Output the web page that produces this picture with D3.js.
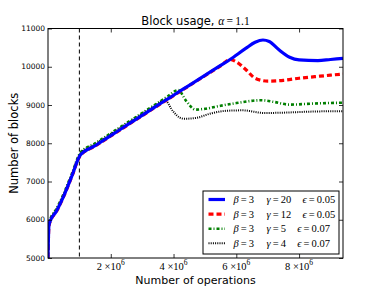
<!DOCTYPE html>
<html>
<head>
<meta charset="utf-8">
<script src="https://cdn.jsdelivr.net/npm/d3@7"></script>
<style>
  body { margin: 0; background: #fff; }
  svg text { fill: #000; }
</style>
</head>
<body>
<div id="graphic"></div>
<script>
// values (x in operations, y in blocks)
var rampX = [0, 0.03e6, 0.1e6, 0.25e6, 0.5e6, 0.75e6, 1.03e6, 1.5e6, 2.0e6, 2.5e6, 3.0e6, 3.5e6];
var blueX = rampX.concat([3.75e6, 4.0e6, 4.5e6, 5.0e6, 5.5e6, 5.8e6, 6.3e6, 6.6e6, 6.85e6, 7.05e6, 7.35e6, 7.7e6, 8.0e6, 8.6e6, 9.0e6, 9.4e6]);
var blueY = [5000, 5850, 6020, 6200, 6620, 7120, 7690, 7935, 8200, 8465, 8730, 8995,
             9125, 9255, 9515, 9775, 10035, 10190, 10480, 10640, 10700, 10660, 10450, 10250, 10180, 10160, 10190, 10220];
var redX = rampX.concat([3.75e6, 4.0e6, 4.5e6, 5.0e6, 5.5e6, 5.8e6, 6.0e6, 6.3e6, 6.6e6, 7.0e6, 7.5e6, 8.0e6, 8.5e6, 9.0e6, 9.4e6]);
var redY = [5000, 5840, 6010, 6190, 6610, 7110, 7680, 7925, 8190, 8455, 8720, 8985,
            9115, 9245, 9505, 9765, 10025, 10190, 10130, 9930, 9700, 9625, 9645, 9700, 9740, 9780, 9810];
var greenX = rampX.concat([3.8e6, 4.15e6, 4.4e6, 4.7e6, 5.0e6, 5.5e6, 6.0e6, 6.8e6, 7.2e6, 7.7e6, 8.5e6, 9.4e6]);
var greenY = [5000, 5900, 6070, 6260, 6680, 7180, 7750, 7995, 8260, 8525, 8790, 9055,
              9215, 9390, 9110, 8880, 8900, 8980, 9050, 9125, 9080, 9010, 9040, 9060];
var blackX = rampX.concat([3.7e6, 4.0e6, 4.2e6, 4.35e6, 4.7e6, 5.2e6, 5.7e6, 6.2e6, 6.9e6, 7.5e6, 8.5e6, 9.4e6]);
var blackY = [5000, 5880, 6050, 6240, 6660, 7160, 7730, 7975, 8240, 8505, 8770, 9035,
              9140, 8820, 8670, 8640, 8660, 8780, 8850, 8860, 8790, 8800, 8830, 8840];

var gammaVals = ["20", "12", "5", "4"];
var epsVals = ["0.05", "0.05", "0.07", "0.07"];
var xTicks = [2e6, 4e6, 6e6, 8e6];
var yTicks = [5000, 6000, 7000, 8000, 9000, 10000, 11000];
var markerX = 1e6;

var W = 382, H = 287;
var margin = { top: 28.5, right: 39, bottom: 29, left: 48 };
var width = W - margin.left - margin.right,
    height = H - margin.top - margin.bottom;
var mathFont = "'Liberation Serif', 'DejaVu Serif', serif";
var eq = "\u2009=\u2009";

var svg = d3.select("#graphic").append("svg")
    .attr("width", W)
    .attr("height", H)
    .style("font-family", "'DejaVu Sans', sans-serif");

var g = svg.append("g")
    .attr("transform", "translate(" + margin.left + "," + margin.top + ")");

var x = d3.scaleLinear().domain([0, 9.4e6]).range([0, width]);
var y = d3.scaleLinear().domain([5000, 11000]).range([height, 0]);

var series = [
    { xs: blueX, ys: blueY, color: "#0000ff", w: 3.2, dash: null },
    { xs: redX, ys: redY, color: "#ff0000", w: 3.2, dash: "5,3" },
    { xs: greenX, ys: greenY, color: "#007f00", w: 2.6, dash: "3,2,1,2" },
    { xs: blackX, ys: blackY, color: "#000000", w: 2, dash: "1,1.2" }
];

svg.append("clipPath").attr("id", "clip")
    .append("rect").attr("width", width).attr("height", height);

var line = d3.line()
    .x(function (d) { return x(d[0]); })
    .y(function (d) { return y(d[1]); })
    .curve(d3.curveMonotoneX);

// dashed vertical marker
g.append("line")
    .attr("x1", x(markerX)).attr("x2", x(markerX))
    .attr("y1", 0).attr("y2", height)
    .attr("stroke", "#000").attr("stroke-width", 1)
    .attr("stroke-dasharray", "4,3");

var plot = g.append("g").attr("clip-path", "url(#clip)");
series.slice().reverse().forEach(function (s) {
    plot.append("path")
        .datum(d3.zip(s.xs, s.ys))
        .attr("d", line)
        .attr("fill", "none")
        .attr("stroke", s.color)
        .attr("stroke-width", s.w)
        .attr("stroke-dasharray", s.dash);
});

// axes with inward ticks on all four sides
var tl = 4;
g.append("g").attr("transform", "translate(0," + height + ")")
    .call(d3.axisBottom(x).tickValues(xTicks).tickSize(-tl).tickFormat(""));
g.append("g")
    .call(d3.axisTop(x).tickValues(xTicks).tickSize(-tl).tickFormat(""));
g.append("g")
    .call(d3.axisLeft(y).tickValues(yTicks).tickSize(-tl).tickFormat(""));
g.append("g").attr("transform", "translate(" + width + ",0)")
    .call(d3.axisRight(y).tickValues(yTicks).tickSize(-tl).tickFormat(""));
g.selectAll(".domain").remove();
g.selectAll(".tick line").attr("stroke", "#000").attr("stroke-width", 0.8);

g.append("rect")
    .attr("width", width).attr("height", height)
    .attr("fill", "none").attr("stroke", "#000").attr("stroke-width", 1);

// tick labels
g.selectAll(".ylab").data(yTicks).enter().append("text")
    .attr("x", -3).attr("y", function (d) { return y(d); })
    .attr("dy", "0.35em")
    .attr("text-anchor", "end")
    .style("font-size", "7.5px")
    .text(function (d) { return d; });

var xl = g.selectAll(".xlab").data(xTicks).enter().append("text")
    .attr("x", function (d) { return x(d); })
    .attr("y", height + 11.5)
    .attr("text-anchor", "middle")
    .style("font-family", mathFont)
    .style("font-size", "10.5px");
xl.append("tspan").text(function (d) { return (d / 1e6) + " \u00d710"; });
xl.append("tspan").attr("dy", -4.5).style("font-size", "7.5px").text("6");

// axis titles
svg.append("text")
    .attr("x", margin.left + width / 2).attr("y", H - 3.5)
    .attr("text-anchor", "middle")
    .style("font-size", "11px")
    .text("Number of operations");

svg.append("text")
    .attr("transform", "translate(18," + (margin.top + height / 2) + ") rotate(-90)")
    .attr("text-anchor", "middle")
    .style("font-size", "11.5px")
    .text("Number of blocks");

var title = svg.append("text")
    .attr("x", margin.left + width / 2).attr("y", 25)
    .attr("text-anchor", "middle")
    .style("font-size", "11.5px");
title.append("tspan").text("Block usage, ");
title.append("tspan").style("font-family", mathFont).style("font-style", "italic").text("\u03b1");
title.append("tspan").style("font-family", mathFont).text(eq + "1.1");

// legend
var leg = svg.append("g").attr("transform", "translate(203,191)");
leg.append("rect")
    .attr("width", 136).attr("height", 63)
    .attr("fill", "#fff").attr("stroke", "#000").attr("stroke-width", 1);

function mtext(xp, ry, sym, rest) {
    var t = leg.append("text")
        .attr("x", xp).attr("y", ry).attr("dy", "0.35em")
        .style("font-family", mathFont)
        .style("font-size", "10.5px");
    t.append("tspan").style("font-style", "italic").text(sym);
    t.append("tspan").text(rest);
    return t;
}

var gap = null;
series.forEach(function (s, i) {
    var ry = 8.5 + i * 14.6;
    leg.append("line")
        .attr("x1", 5.5).attr("x2", 22)
        .attr("y1", ry).attr("y2", ry)
        .attr("stroke", s.color)
        .attr("stroke-width", s.w)
        .attr("stroke-dasharray", s.dash);
    mtext(30.5, ry, "\u03b2", eq + "3");
    var tg = mtext(63.5, ry, "\u03b3", eq + gammaVals[i]);
    var gEnd = 63.5 + tg.node().getComputedTextLength();
    if (gap === null) gap = 99.5 - gEnd;
    mtext(gEnd + gap, ry, "\u03f5", eq + epsVals[i]);
});
</script>
</body>
</html>
